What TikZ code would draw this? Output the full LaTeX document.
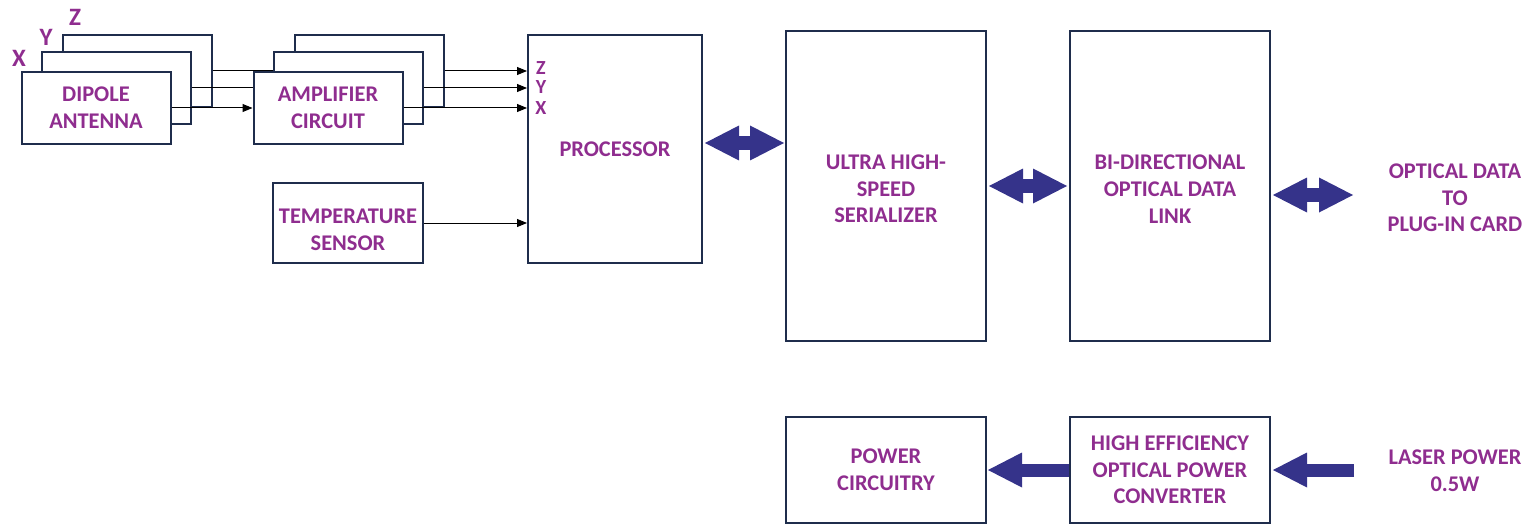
\documentclass[tikz,border=0pt]{standalone}
\usepackage{fontspec}
\setmainfont{Carlito}
\usetikzlibrary{arrows.meta}
\definecolor{boxline}{RGB}{31,45,76}
\definecolor{labtext}{RGB}{143,45,143}
\definecolor{arrfill}{RGB}{53,51,138}

\begin{document}
\begin{tikzpicture}[x=1pt,y=-1pt,
  lab/.style={text=labtext,align=center,inner sep=0pt,font=\bfseries\fontsize{22.4}{26.7}\selectfont},
  axis/.style={lab,font=\bfseries\fontsize{20}{20}\selectfont,text height=10pt,text depth=0pt},
  blk/.style={lab,draw=boxline,line width=2pt,fill=white},
  wire/.style={line width=1pt},
  sig/.style={wire,-{Triangle[width=8pt,length=10pt]}},
  fat/.style={arrfill,line width=13pt,-{Triangle[width=35pt,length=34pt,line width=0pt]}},
  fatboth/.style={arrfill,line width=14pt,{Triangle[width=35pt,length=34pt,line width=0pt]}-{Triangle[width=35pt,length=34pt,line width=0pt]}}]
  \useasboundingbox (0,0) rectangle (1534,524);

  % stacked antennas, back to front
  \node[blk,minimum width=149pt,minimum height=72pt] (dz) at (137,71) {};
  \node[blk,minimum width=149pt,minimum height=72pt] (dy) at (116,88) {};
  \node[blk,minimum width=149pt,minimum height=72pt] (dx) at (96,108) {DIPOLE\\ANTENNA};
  \node[lab,font=\bfseries\fontsize{25}{26}\selectfont] (lx) at (19,58) {X};
  \node[lab,font=\bfseries\fontsize{25}{26}\selectfont] (ly) at (46,37) {Y};
  \node[lab,font=\bfseries\fontsize{25}{26}\selectfont] (lz) at (75,17) {Z};

  % stacked amplifiers
  \node[blk,minimum width=149pt,minimum height=72pt] (az) at (369,71) {};
  \node[blk,minimum width=149pt,minimum height=72pt] (ay) at (348,88) {};
  \node[blk,minimum width=149pt,minimum height=72pt] (ax) at (328,108) {AMPLIFIER\\CIRCUIT};

  \node[blk,minimum width=150pt,minimum height=80pt] (temp) at (348,223) {};
  \node[lab] (templab) at ([yshift=-7pt]temp.center) {TEMPERATURE\\SENSOR};
  \node[blk,minimum width=174pt,minimum height=228pt] (proc) at (615,149) {PROCESSOR};
  \node[axis] (pz) at (541,70) {Z};
  \node[axis] (py) at (541,89) {Y};
  \node[axis] (px) at (541,110) {X};

  \node[blk,minimum width=200pt,minimum height=310pt] (ser) at (886,186) {};
  \node[lab] (serlab) at ([yshift=-3pt]ser.center) {ULTRA HIGH-\\SPEED\\SERIALIZER};
  \node[blk,minimum width=200pt,minimum height=310pt] (link) at (1170,186) {};
  \node[lab] (linklab) at ([yshift=-3pt]link.center) {BI-DIRECTIONAL\\OPTICAL DATA\\LINK};
  \node[lab] (opt) at (1455,198) {OPTICAL DATA\\TO\\PLUG-IN CARD};

  \node[blk,minimum width=200pt,minimum height=106pt] (pwr) at (886,470) {POWER\\CIRCUITRY};
  \node[blk,minimum width=200pt,minimum height=106pt] (conv) at (1170,470) {HIGH EFFICIENCY\\OPTICAL POWER\\CONVERTER};
  \node[lab] (laser) at (1455,471) {LASER POWER\\0.5W};

  % signal wires
  \draw[wire] (dz.east) -- (dz.east -| ay.west);
  \draw[wire] (dy.east) -- (dy.east -| ax.west);
  \draw[sig] (dx.east) -- (ax.west);
  \draw[sig] (az.east) -- (az.east -| proc.west);
  \draw[sig] (ay.east) -- (ay.east -| proc.west);
  \draw[sig] (ax.east) -- (ax.east -| proc.west);
  \draw[sig] (temp.east) -- (temp.east -| proc.west);

  % block arrows
  \coordinate (d1) at (0,143);
  \coordinate (d3) at (1353,195);
  \coordinate (lp) at (1354,470);
  \draw[fatboth] ([xshift=2pt]proc.east |- d1) -- ([xshift=-1pt]ser.west |- d1);
  \draw[fatboth] ([xshift=2pt]ser.east) -- ([xshift=-2pt]link.west);
  \draw[fatboth] ([xshift=2pt]link.east |- d3) -- (d3);
  \draw[fat] (conv.west) -- ([xshift=1pt]pwr.east);
  \draw[fat] (lp) -- ([xshift=2pt]conv.east);
\end{tikzpicture}
\end{document}
